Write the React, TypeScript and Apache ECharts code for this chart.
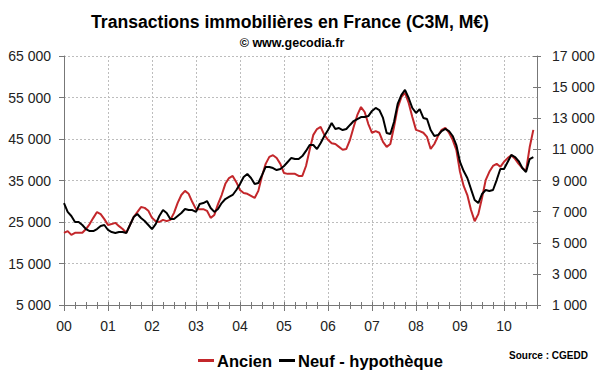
import React, { useEffect, useRef } from 'react';
import * as echarts from 'echarts';

const yearLabels = ['00', '01', '02', '03', '04', '05', '06', '07', '08', '09', '10'];

// Monthly series, Jan 2000 -> Sep 2010
const ancien = [
  22400, 22800, 21900, 22400, 22400, 22400, 23300, 24500, 26000, 27400, 26900, 25700,
  24300, 24500, 24800, 24000, 23300, 22400, 24300, 26200, 27400, 28600, 28400, 27700,
  26000, 25200, 25000, 25500, 25200, 25500, 27200, 29600, 31500, 32500, 31800, 29800,
  28100, 28100, 28100, 27700, 26000, 26700, 29300, 31500, 34200, 35600, 36100, 34600,
  32700, 32000, 31800, 31300, 30800, 32500, 36100, 39000, 40700, 41100, 40400, 39000,
  36800, 36600, 36600, 36600, 36100, 36100, 38500, 42400, 46000, 47400, 47900, 46000,
  44800, 44000, 43800, 43100, 42400, 42600, 44800, 47900, 50800, 52700, 51500, 48600,
  46500, 46900, 46500, 44300, 43100, 43800, 47900, 52500, 55100, 56100, 53700, 50300,
  47200, 46900, 46500, 45500, 42600, 43800, 45700, 47200, 47700, 46500, 44800, 42400,
  37100, 33700, 31500, 27900, 25200, 26900, 30800, 35100, 37100, 38500, 39000, 38300,
  39500, 40400, 41100, 40200, 39000, 38000, 37300, 43000, 47200,
];

const neufHypotheque = [
  7550, 6980, 6720, 6330, 6330, 6140, 5880, 5750, 5750, 5880, 6080, 6140,
  5820, 5690, 5630, 5690, 5690, 5630, 6140, 6650, 6850, 6590, 6400, 6140,
  5880, 6200, 6720, 7100, 6910, 6530, 6530, 6720, 6910, 7170, 7100, 7100,
  6980, 7490, 7550, 7680, 7230, 6980, 7170, 7550, 7810, 7940, 8070, 8390,
  8770, 9220, 9420, 9160, 8770, 8840, 9350, 9870, 9870, 9800, 9670, 9740,
  9930, 10190, 10450, 10380, 10380, 10570, 10900, 11280, 11280, 11020, 11410, 11860,
  12240, 12690, 12310, 12370, 12240, 12310, 12570, 12820, 12950, 13080, 13080, 13140,
  13470, 13660, 13530, 13020, 12050, 11990, 12760, 13920, 14490, 14820, 14300, 13660,
  13340, 13590, 13020, 12950, 12240, 11860, 11920, 12180, 12310, 12180, 11860, 11280,
  10190, 9610, 9160, 8450, 7750, 7550, 8130, 8390, 8330, 8390, 9030, 9740,
  9740, 10190, 10640, 10510, 10250, 9800, 9550, 10380, 10510,
];

const leftTicks = [5000, 15000, 25000, 35000, 45000, 55000, 65000];
const rightTicks = [1000, 3000, 5000, 7000, 9000, 11000, 13000, 15000, 17000];

const FONT = '"Liberation Sans", Arial, Helvetica, sans-serif';
const AXIS_COLOR = '#777';
const GRID_COLOR = '#bdbdbd';

const categories: string[] = [];
yearLabels.forEach((y) => {
  for (let m = 1; m <= 12; m++) {
    if (categories.length < 130) categories.push(`${y}-${String(m).padStart(2, '0')}`);
  }
});

const fmt = (v: number) => String(v).replace(/\B(?=(\d{3})+(?!\d))/g, ' ');

export default function App() {
  const ref = useRef<HTMLDivElement>(null);
  useEffect(() => {
    if (!ref.current) return;
    const chart = echarts.init(ref.current, undefined, { renderer: 'svg' });
    const xBase = {
      type: 'category' as const,
      data: categories,
      boundaryGap: false,
      position: 'bottom' as const,
      offset: 0,
    };
    chart.setOption({
      animation: false,
      backgroundColor: '#fff',
      grid: { left: 64, right: 63, top: 56, bottom: 67, containLabel: false },
      graphic: [
        {
          type: 'text', x: 290, y: 22,
          style: { text: 'Transactions immobilières en France (C3M, M€)', fontFamily: FONT, fontWeight: 'bold', fontSize: 17.6, fill: '#000', align: 'center', verticalAlign: 'middle' },
        },
        {
          type: 'text', x: 292, y: 43,
          style: { text: '© www.gecodia.fr', fontFamily: FONT, fontWeight: 'bold', fontSize: 12.5, fill: '#000', align: 'center', verticalAlign: 'middle' },
        },
        {
          type: 'text', x: 509, y: 355,
          style: { text: 'Source : CGEDD', fontFamily: FONT, fontWeight: 'bold', fontSize: 10, fill: '#000', align: 'left', verticalAlign: 'middle' },
        },
      ],
      legend: {
        data: ['Ancien', 'Neuf - hypothèque'],
        left: 193, top: 347,
        icon: 'rect', itemWidth: 16, itemHeight: 3, itemGap: 7,
        textStyle: { fontFamily: FONT, fontWeight: 'bold', fontSize: 16.5, color: '#000', padding: [0, 0, 0, -2] },
      },
      xAxis: [
        {
          ...xBase,
          axisLine: { show: true, lineStyle: { color: AXIS_COLOR, width: 1 } },
          axisTick: { show: true, interval: (i: number) => i % 3 === 0, length: 4, lineStyle: { color: AXIS_COLOR } },
          axisLabel: {
            interval: (i: number) => i % 12 === 0,
            formatter: (v: string) => v.slice(0, 2),
            margin: 14, fontFamily: FONT, fontSize: 14, color: '#222',
          },
          splitLine: {
            show: true,
            interval: (i: number) => i % 12 === 0 && i > 0,
            lineStyle: { color: GRID_COLOR, type: [2, 2], width: 1 },
          },
        },
        {
          ...xBase,
          axisLine: { show: false },
          axisTick: { show: true, inside: true, interval: (i: number) => i % 3 === 0, length: 3, lineStyle: { color: AXIS_COLOR } },
          axisLabel: { show: false },
          splitLine: { show: false },
        },
        {
          ...xBase,
          axisLine: { show: false },
          axisTick: { show: true, interval: (i: number) => i % 12 === 0, length: 6, lineStyle: { color: AXIS_COLOR } },
          axisLabel: { show: false },
          splitLine: { show: false },
        },
      ],
      yAxis: [
        {
          type: 'value', position: 'left', min: 5000, max: 65000,
          axisLine: { show: true, lineStyle: { color: AXIS_COLOR } },
          axisTick: { show: true, length: 5, customValues: leftTicks, lineStyle: { color: AXIS_COLOR } },
          axisLabel: { customValues: leftTicks, formatter: (v: number) => fmt(v), margin: 13, fontFamily: FONT, fontSize: 14, color: '#222' },
          splitLine: { show: true, lineStyle: { color: GRID_COLOR, type: [2, 2], width: 1 } },
        },
        {
          type: 'value', position: 'right', min: 1000, max: 17000,
          axisLine: { show: true, lineStyle: { color: AXIS_COLOR } },
          axisTick: { show: true, length: 4, customValues: rightTicks, lineStyle: { color: AXIS_COLOR } },
          axisLabel: { customValues: rightTicks, formatter: (v: number) => fmt(v), margin: 15, fontFamily: FONT, fontSize: 14, color: '#222' },
          splitLine: { show: false },
        },
        {
          type: 'value', position: 'right', offset: 0, min: 1000, max: 17000,
          axisLine: { show: false },
          axisTick: { show: true, inside: true, length: 4, customValues: rightTicks, lineStyle: { color: AXIS_COLOR } },
          axisLabel: { show: false },
          splitLine: { show: false },
        },
      ],
      series: [
        {
          name: 'Ancien', type: 'line', xAxisIndex: 0, yAxisIndex: 0, data: ancien,
          showSymbol: false, symbol: 'none', color: '#c3272b',
          lineStyle: { color: '#c3272b', width: 2 },
        },
        {
          name: 'Neuf - hypothèque', type: 'line', xAxisIndex: 0, yAxisIndex: 1, data: neufHypotheque,
          showSymbol: false, symbol: 'none', color: '#000',
          lineStyle: { color: '#000', width: 2 },
        },
      ],
    });
    return () => chart.dispose();
  }, []);
  return <div ref={ref} style={{ position: 'fixed', left: 0, top: 0, width: 600, height: 372, background: '#fff' }} />;
}
